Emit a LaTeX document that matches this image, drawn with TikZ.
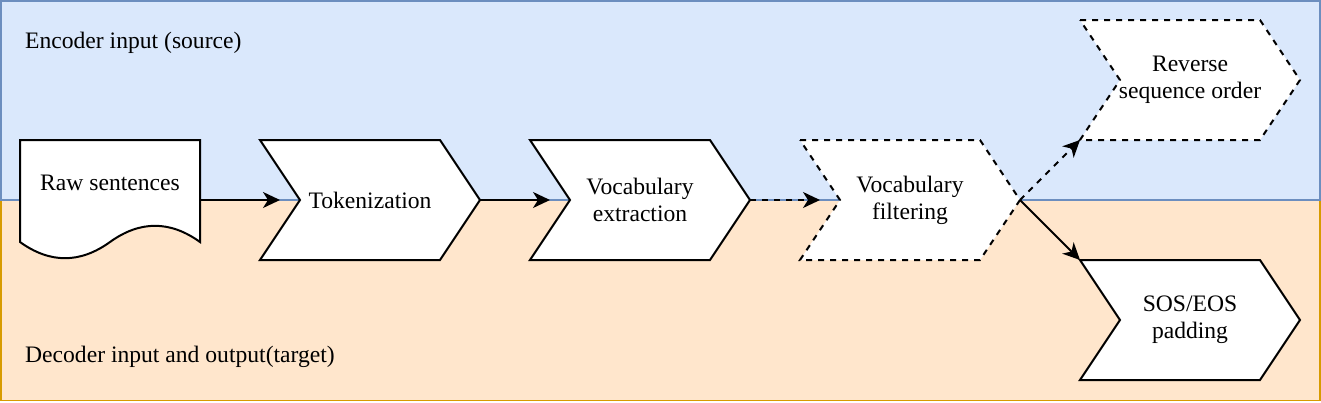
\documentclass[tikz,border=0pt]{standalone}
\usepackage{fontspec}
\setmainfont{Liberation Serif}
\usetikzlibrary{arrows.meta}
\definecolor{encfill}{HTML}{DAE8FC}
\definecolor{encline}{HTML}{6C8EBF}
\definecolor{decfill}{HTML}{FFE6CC}
\definecolor{decline}{HTML}{D79B00}
\pgfdeclarelayer{bg}
\pgfdeclarelayer{mid}
\pgfsetlayers{bg,mid,main}
\newcommand\chevron[2]{%
  \begin{pgfonlayer}{mid}
  \draw[#2] (#1.north west) -- ([xshift=-40]#1.north east) -- (#1.east)
    -- ([xshift=-40]#1.south east) -- (#1.south west) -- ([xshift=40]#1.west) -- cycle;
  \end{pgfonlayer}}
\begin{document}
\begin{tikzpicture}[x=1pt,y=-1pt,
  every node/.style={font=\fontsize{23.6}{27}\selectfont},
  stepbox/.style={minimum width=220, minimum height=120, inner sep=0, outer sep=0, align=center},
  docbox/.style={minimum width=180, minimum height=120, inner sep=0, outer sep=0},
  shapeline/.style={draw=black, fill=white, line width=2, line join=miter},
  dashline/.style={shapeline, dash pattern=on 6 off 6},
  conn/.style={draw=black, line width=2, -{Stealth[length=17,width=16,inset=5]}},
  dconn/.style={conn, dash pattern=on 6 off 6},
  region/.style={line width=1.5},
  lbl/.style={anchor=west, inner sep=0}]
\useasboundingbox (0,0) rectangle (1321,402);
\begin{pgfonlayer}{bg}
\fill[decfill, draw=decline, region] (0.75,200) rectangle (1320,400.5);
\fill[encfill, draw=encline, region] (0.75,0.75) rectangle (1320,200);
\end{pgfonlayer}
\node[lbl] (enc) at (25,43) {Encoder input (source)};
\node[lbl] (dec) at (25,357) {Decoder input and output(target)};
% document shape
\node[docbox] (raw) at (110,200) {};
\node (rawt) at (110,183) {Raw sentences};
\begin{pgfonlayer}{mid}
\draw[shapeline] (raw.north west) -- (raw.north east) -- (200,242)
  .. controls (170,220.4) and (140,220.4) .. (110,242)
  .. controls (80,263.6) and (50,263.6) .. (20,242) -- cycle;
\end{pgfonlayer}
\node[stepbox] (tok) at (370,200) {Tokenization};
\chevron{tok}{shapeline}
\node[stepbox] (voc) at (640,200) {Vocabulary\\extraction};
\chevron{voc}{shapeline}
\node[stepbox] (filt) at (910,200) {Vocabulary\\filtering};
\chevron{filt}{dashline}
\node[stepbox] (rev) at (1190,80) {Reverse\\sequence order};
\chevron{rev}{dashline}
\node[stepbox] (sos) at (1190,320) {SOS/EOS\\padding};
\chevron{sos}{shapeline}
% connectors
\draw[conn] (raw.east) -- ([xshift=20]tok.west);
\draw[conn] (tok.east) -- ([xshift=20]voc.west);
\draw[dconn] (voc.east) -- ([xshift=20]filt.west);
\draw[dconn] (filt.east) -- (rev.south west);
\draw[conn] (filt.east) -- (sos.north west);
\end{tikzpicture}
\end{document}
